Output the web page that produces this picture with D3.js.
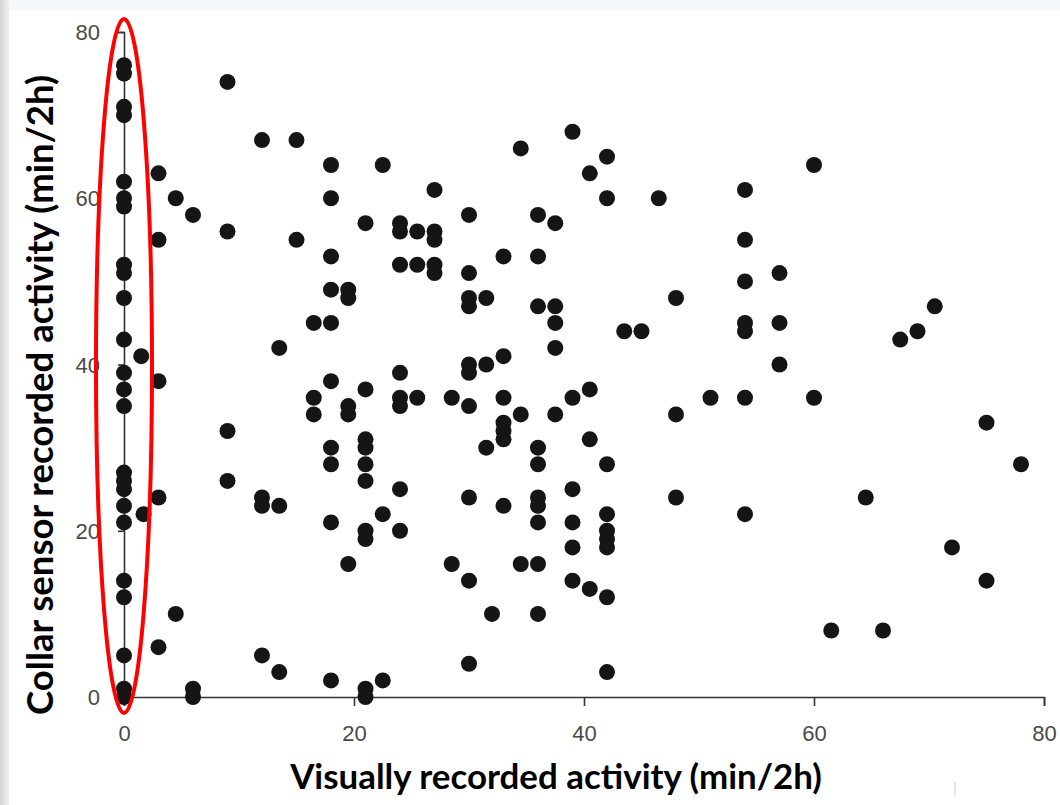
<!DOCTYPE html>
<html>
<head>
	<title>collar-vs-visual</title>
	<meta charset="utf-8">
	<style type="text/css">
		body { margin: 0; background: #fff; }
		svg { display: block; }
	</style>
</head>
<body>

<script type="text/javascript" src="https://cdn.jsdelivr.net/npm/d3@7/dist/d3.min.js"></script>
<script type="text/javascript">
	/*=========DATA=========*/
	// visually recorded activity (x) and collar sensor activity (y), min/2h, one pair per dot
	var visualMin = [
		0,0,0,0,0,0,0,0,0,0,0,0,0,0,0,0,0,0,0,0,0,0,0,0,
		1.5,1.7,3,3,3,3,3,4.5,4.5,6,6,6,
		9,9,9,9,12,12,12,12,13.5,13.5,13.5,15,15,16.5,16.5,16.5,
		18,18,18,18,18,18,18,18,18,18,19.5,19.5,19.5,19.5,19.5,
		21,21,21,21,21,21,21,21,21,21,22.5,22.5,22.5,
		24,24,24,24,24,24,24,24,25.5,25.5,25.5,27,27,27,27,27,28.5,28.5,
		30,30,30,30,30,30,30,30,30,30,31.5,31.5,31.5,32,
		33,33,33,33,33,33,33,34.5,34.5,34.5,
		36,36,36,36,36,36,36,36,36,36,37.5,37.5,37.5,37.5,37.5,
		39,39,39,39,39,39,40.5,40.5,40.5,40.5,
		42,42,42,42,42,42,42,42,42,43.5,45,46.5,48,48,48,51,
		54,54,54,54,54,54,54,57,57,57,60,60,
		61.5,64.5,66,67.5,69,70.5,72,75,75,78
	];
	var collarMin = [
		76,75,71,70,62,60,59,52,51,48,43,39,37,35,27,26,25,23,21,14,12,5,1,0,
		41,22,63,55,38,24,6,60,10,58,1,0,
		74,56,32,26,67,24,23,5,42,23,3,67,55,45,36,34,
		64,60,53,49,45,38,30,28,21,2,49,48,35,34,16,
		57,37,31,30,28,26,20,19,1,0,64,22,2,
		57,56,52,39,36,35,25,20,56,52,36,61,56,55,52,51,36,16,
		58,51,48,47,40,39,35,24,14,4,48,40,30,10,
		53,41,36,33,32,31,23,66,34,16,
		58,53,47,30,28,24,23,21,16,10,57,47,45,42,34,
		68,36,25,21,18,14,63,37,31,13,
		65,60,28,22,20,19,18,12,3,44,44,60,48,34,24,36,
		61,55,50,45,44,36,22,51,45,40,64,36,
		8,24,8,43,44,47,18,33,14,28
	];
	var xTicks = [0, 20, 40, 60, 80];
	var yTicks = [0, 20, 40, 60, 80];
	var xTitle = "Visually recorded activity (min/2h)";
	var yTitle = "Collar sensor recorded activity (min/2h)";

	/*=====SIZE SVG======*/
	var w = 1060;
	var h = 805;
	var svg = d3.select("body").append("svg").attr("width", w).attr("height", h);

	// slide edges: light band on top, grey fade on the left
	var defs = svg.append("defs");
	var fade = defs.append("linearGradient").attr("id", "leftFade");
	fade.append("stop").attr("offset", "0%").attr("stop-color", "#d4d4d4");
	fade.append("stop").attr("offset", "100%").attr("stop-color", "#f2f2f2");
	svg.append("rect").attr("x", 0).attr("y", 0).attr("width", w).attr("height", 10).attr("fill", "#f6f7f9");
	svg.append("rect").attr("x", 0).attr("y", 0).attr("width", 9).attr("height", h).attr("fill", "url(#leftFade)");
	svg.append("line").attr("x1", 955).attr("x2", 955).attr("y1", 782).attr("y2", 796)
		.attr("stroke", "#c8ccd4").attr("stroke-width", 1);

	/*=========SCALES============*/
	var x = d3.scaleLinear().domain([0, 80]).range([124, 1044]);
	var y = d3.scaleLinear().domain([0, 80]).range([697, 32]);

	var xAxis = d3.axisBottom(x).tickValues(xTicks).tickSize(9).tickPadding(19);
	var yAxis = d3.axisLeft(y).tickValues(yTicks).tickSize(6).tickPadding(18);

	var gx = svg.append("g").attr("transform", "translate(0," + y(0) + ")").call(xAxis);
	var gy = svg.append("g").attr("transform", "translate(" + x(0) + ",0)").call(yAxis);

	[gx, gy].forEach(function(g){
		g.select(".domain").attr("stroke", "#333").attr("stroke-width", 1.6);
		g.selectAll(".tick line").attr("stroke", "#333").attr("stroke-width", 1.6);
		g.selectAll(".tick text")
			.attr("fill", "#4a4a4a")
			.style("font-family", "'Liberation Sans', Arial, sans-serif")
			.style("font-size", "22px");
	});
	gy.selectAll(".tick text").attr("dy", "0.35em");

	/*=========DOTS============*/
	var points = visualMin.map(function(v, i){ return [v, collarMin[i]]; });
	svg.append("g").selectAll("circle")
		.data(points)
		.enter()
		.append("circle")
		.attr("cx", function(d){ return x(d[0]); })
		.attr("cy", function(d){ return y(d[1]); })
		.attr("r", 8)
		.attr("fill", "#151515");

	/*=========HIGHLIGHT============*/
	svg.append("ellipse")
		.attr("cx", x(0)).attr("cy", 366)
		.attr("rx", 28).attr("ry", 347)
		.attr("fill", "none").attr("stroke", "#f00").attr("stroke-width", 4);

	/*=========TITLES============*/
	function fitText(sel, width){
		var len = sel.node().getComputedTextLength();
		var size = parseFloat(sel.style("font-size"));
		sel.style("font-size", (size * width / len) + "px");
	}

	var tx = svg.append("text")
		.attr("x", 556).attr("y", 789)
		.attr("text-anchor", "middle")
		.style("font-family", "Lato, 'Open Sans', sans-serif")
		.style("font-weight", "bold")
		.style("font-size", "30px")
		.attr("fill", "#000")
		.text(xTitle);
	fitText(tx, 532);

	var ty = svg.append("text")
		.attr("transform", "translate(53,395) rotate(-90)")
		.attr("text-anchor", "middle")
		.style("font-family", "Lato, 'Open Sans', sans-serif")
		.style("font-weight", "bold")
		.style("font-size", "30px")
		.attr("fill", "#000")
		.text(yTitle);
	fitText(ty, 640);
</script>
</body>
</html>
